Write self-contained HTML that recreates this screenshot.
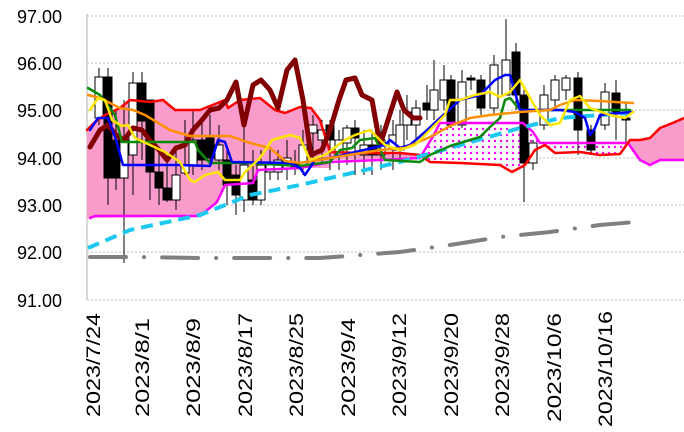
<!DOCTYPE html>
<html><head><meta charset="utf-8"><style>body{margin:0;background:#fff}svg{display:block}</style></head><body>
<svg width="684" height="432" xmlns="http://www.w3.org/2000/svg" font-family="Liberation Sans, sans-serif">
<defs><pattern id="dots" width="6" height="6" patternUnits="userSpaceOnUse"><rect width="6" height="6" fill="#fff"/><circle cx="3" cy="3" r="1.2" fill="#f0f"/></pattern></defs>
<g stroke="#bbb" stroke-dasharray="2,2" stroke-width="1">
<line x1="87" y1="16" x2="684" y2="16"/><line x1="87" y1="63" x2="684" y2="63"/><line x1="87" y1="110" x2="684" y2="110"/><line x1="87" y1="158" x2="684" y2="158"/><line x1="87" y1="205" x2="684" y2="205"/><line x1="87" y1="252" x2="684" y2="252"/><line x1="87" y1="300" x2="684" y2="300"/>
</g>
<line x1="87" y1="14" x2="87" y2="300" stroke="#ccc" stroke-width="1.5"/>
<g font-size="18" text-anchor="end" fill="#000">
<text x="62" y="23">97.00</text><text x="62" y="70">96.00</text><text x="62" y="117">95.00</text><text x="62" y="165">94.00</text><text x="62" y="212">93.00</text><text x="62" y="259">92.00</text><text x="62" y="307">91.00</text>
</g>
<g font-size="19" text-anchor="end" lengthAdjust="spacingAndGlyphs">
<text transform="translate(100,313) rotate(-90)" textLength="104" lengthAdjust="spacingAndGlyphs">2023/7/24</text>
<text transform="translate(149,318) rotate(-90)" textLength="99" lengthAdjust="spacingAndGlyphs">2023/8/1</text>
<text transform="translate(200,318) rotate(-90)" textLength="99" lengthAdjust="spacingAndGlyphs">2023/8/9</text>
<text transform="translate(252,313) rotate(-90)" textLength="104" lengthAdjust="spacingAndGlyphs">2023/8/17</text>
<text transform="translate(303,313) rotate(-90)" textLength="104" lengthAdjust="spacingAndGlyphs">2023/8/25</text>
<text transform="translate(355,318) rotate(-90)" textLength="99" lengthAdjust="spacingAndGlyphs">2023/9/4</text>
<text transform="translate(406,313) rotate(-90)" textLength="104" lengthAdjust="spacingAndGlyphs">2023/9/12</text>
<text transform="translate(458,313) rotate(-90)" textLength="104" lengthAdjust="spacingAndGlyphs">2023/9/20</text>
<text transform="translate(509,313) rotate(-90)" textLength="104" lengthAdjust="spacingAndGlyphs">2023/9/28</text>
<text transform="translate(561,313) rotate(-90)" textLength="109" lengthAdjust="spacingAndGlyphs">2023/10/6</text>
<text transform="translate(612,311) rotate(-90)" textLength="116" lengthAdjust="spacingAndGlyphs">2023/10/16</text>
</g>
<polygon fill="#f99ccc" points="87,130 95,122 105,115 120,108 130,100 150,102 163,100 175,110 200,110 215,104 225,100 228,108 240,100 260,98 275,110 285,113 300,107 311,108 320,120 330,152 330,168 300,168 258,170 253,183 225,185 217,202 200,216 90,218 87,218"/>
<polygon fill="#f99ccc" points="330,152 420,155 420,158 330,160"/>
<polygon fill="url(#dots)" points="420,155 430,162 460,163 500,165 512,172 525,165 535,150 545,145 555,153 580,152 600,155 620,154 628,143 540,143 533,132 523,123 440,123 432,138 420,158"/>
<polygon fill="#f99ccc" points="628,143 630,140 640,140 650,138 660,128 675,122 684,118 684,160 660,160 650,165 640,160"/>
<g stroke="#000" stroke-width="1">
<line x1="99" y1="68" x2="99" y2="125"/><rect x="95" y="77" width="8" height="41" fill="#fff"/>
<line x1="108" y1="68" x2="108" y2="205"/><rect x="104" y="77" width="8" height="101" fill="#000"/>
<line x1="116" y1="110" x2="116" y2="190"/><rect x="112" y="140" width="8" height="38" fill="#000"/>
<line x1="124" y1="100" x2="124" y2="263"/><rect x="120" y="140" width="8" height="38" fill="#fff"/>
<line x1="133" y1="72" x2="133" y2="195"/><rect x="129" y="83" width="8" height="72" fill="#fff"/>
<line x1="142" y1="72" x2="142" y2="160"/><rect x="138" y="83" width="8" height="38" fill="#000"/>
<line x1="150" y1="118" x2="150" y2="200"/><rect x="146" y="100" width="8" height="72" fill="#000"/>
<line x1="159" y1="150" x2="159" y2="205"/><rect x="155" y="172" width="8" height="16" fill="#000"/>
<line x1="167" y1="160" x2="167" y2="202"/><rect x="163" y="188" width="8" height="12" fill="#000"/>
<line x1="176" y1="150" x2="176" y2="210"/><rect x="172" y="175" width="8" height="25" fill="#fff"/>
<line x1="185" y1="120" x2="185" y2="175"/><rect x="181" y="165" width="8" height="8" fill="#fff"/>
<line x1="193" y1="110" x2="193" y2="175"/><rect x="189" y="140" width="8" height="25" fill="#fff"/>
<line x1="202" y1="118" x2="202" y2="170"/><rect x="198" y="140" width="8" height="20" fill="#000"/>
<line x1="210" y1="115" x2="210" y2="165"/><rect x="206" y="138" width="8" height="20" fill="#000"/>
<line x1="219" y1="125" x2="219" y2="170"/><rect x="215" y="145" width="8" height="15" fill="#fff"/>
<line x1="227" y1="150" x2="227" y2="205"/><rect x="223" y="160" width="8" height="25" fill="#000"/>
<line x1="236" y1="165" x2="236" y2="215"/><rect x="232" y="175" width="8" height="20" fill="#000"/>
<line x1="244" y1="120" x2="244" y2="212"/><rect x="240" y="165" width="8" height="35" fill="#fff"/>
<line x1="253" y1="150" x2="253" y2="205"/><rect x="249" y="180" width="8" height="20" fill="#000"/>
<line x1="261" y1="150" x2="261" y2="205"/><rect x="257" y="165" width="8" height="35" fill="#fff"/>
<line x1="270" y1="150" x2="270" y2="180"/><rect x="266" y="165" width="8" height="7" fill="#fff"/>
<line x1="278" y1="150" x2="278" y2="180"/><rect x="274" y="160" width="8" height="12" fill="#fff"/>
<line x1="287" y1="140" x2="287" y2="180"/><rect x="283" y="158" width="8" height="10" fill="#fff"/>
<line x1="295" y1="150" x2="295" y2="175"/><rect x="291" y="162" width="8" height="6" fill="#000"/>
<line x1="303" y1="130" x2="303" y2="175"/><rect x="299" y="145" width="8" height="20" fill="#fff"/>
<line x1="313" y1="115" x2="313" y2="160"/><rect x="309" y="125" width="8" height="8" fill="#fff"/>
<line x1="322" y1="120" x2="322" y2="165"/><rect x="318" y="130" width="8" height="10" fill="#fff"/>
<line x1="330" y1="120" x2="330" y2="170"/><rect x="326" y="125" width="8" height="15" fill="#000"/>
<line x1="339" y1="130" x2="339" y2="170"/><rect x="335" y="140" width="8" height="15" fill="#fff"/>
<line x1="347" y1="125" x2="347" y2="165"/><rect x="343" y="128" width="8" height="15" fill="#fff"/>
<line x1="355" y1="120" x2="355" y2="175"/><rect x="351" y="128" width="8" height="10" fill="#000"/>
<line x1="364" y1="130" x2="364" y2="175"/><rect x="360" y="145" width="8" height="10" fill="#fff"/>
<line x1="372" y1="130" x2="372" y2="175"/><rect x="368" y="145" width="8" height="10" fill="#000"/>
<line x1="381" y1="125" x2="381" y2="170"/><rect x="377" y="140" width="8" height="15" fill="#fff"/>
<line x1="393" y1="120" x2="393" y2="170"/><rect x="389" y="135" width="8" height="15" fill="#fff"/>
<line x1="400" y1="110" x2="400" y2="160"/><rect x="396" y="125" width="8" height="25" fill="#fff"/>
<line x1="407" y1="95" x2="407" y2="140"/><rect x="403" y="112" width="8" height="13" fill="#fff"/>
<line x1="416" y1="100" x2="416" y2="140"/><rect x="412" y="108" width="8" height="17" fill="#fff"/>
<line x1="427" y1="85" x2="427" y2="120"/><rect x="423" y="103" width="8" height="7" fill="#000"/>
<line x1="434" y1="60" x2="434" y2="120"/><rect x="430" y="90" width="8" height="20" fill="#fff"/>
<line x1="444" y1="65" x2="444" y2="110"/><rect x="440" y="80" width="8" height="20" fill="#fff"/>
<line x1="451" y1="75" x2="451" y2="128"/><rect x="447" y="80" width="8" height="45" fill="#000"/>
<line x1="462" y1="70" x2="462" y2="128"/><rect x="458" y="82" width="8" height="43" fill="#fff"/>
<line x1="471" y1="75" x2="471" y2="90"/><rect x="467" y="78" width="8" height="2" fill="#000"/>
<line x1="481" y1="75" x2="481" y2="115"/><rect x="477" y="80" width="8" height="28" fill="#000"/>
<line x1="494" y1="55" x2="494" y2="115"/><rect x="490" y="65" width="8" height="43" fill="#fff"/>
<line x1="506" y1="19" x2="506" y2="80"/><rect x="502" y="60" width="8" height="35" fill="#fff"/>
<line x1="516" y1="43" x2="516" y2="110"/><rect x="512" y="52" width="8" height="43" fill="#000"/>
<line x1="524" y1="90" x2="524" y2="202"/><rect x="520" y="95" width="8" height="68" fill="#000"/>
<line x1="533" y1="140" x2="533" y2="170"/><rect x="529" y="143" width="8" height="20" fill="#fff"/>
<line x1="544" y1="85" x2="544" y2="130"/><rect x="540" y="95" width="8" height="30" fill="#fff"/>
<line x1="555" y1="75" x2="555" y2="110"/><rect x="551" y="80" width="8" height="20" fill="#fff"/>
<line x1="566" y1="75" x2="566" y2="100"/><rect x="562" y="78" width="8" height="12" fill="#fff"/>
<line x1="578" y1="72" x2="578" y2="155"/><rect x="574" y="78" width="8" height="52" fill="#000"/>
<line x1="591" y1="125" x2="591" y2="155"/><rect x="587" y="130" width="8" height="20" fill="#000"/>
<line x1="605" y1="83" x2="605" y2="130"/><rect x="601" y="92" width="8" height="33" fill="#fff"/>
<line x1="616" y1="80" x2="616" y2="140"/><rect x="612" y="93" width="8" height="20" fill="#000"/>
<line x1="626" y1="103" x2="626" y2="145"/><rect x="622" y="118" width="8" height="2" fill="#000"/>
</g>
<g fill="none" stroke-linejoin="round" stroke-linecap="round">
<polyline stroke="#f0f" stroke-width="2.5" points="90,218 95,216 200,216 217,202 225,185 253,183 258,170 300,168 330,162 380,160 420,158 432,138 440,123 523,123 533,132 540,143 628,143 640,160 650,165 660,160 684,160"/>
<polyline stroke="#f00" stroke-width="2.5" points="87,130 95,122 105,115 120,108 130,100 150,102 163,100 175,110 200,110 215,104 225,100 228,108 240,100 260,98 275,110 285,113 300,107 311,108 320,120 330,152 360,153 400,153 420,155 430,162 460,163 500,165 512,172 525,165 535,150 545,145 555,153 580,152 600,155 620,154 630,140 640,140 650,138 660,128 675,122 684,118"/>
<polyline stroke="#820000" stroke-width="5" points="90,147 100,130 108,125 116,135 124,140 133,128 142,130 150,140 159,150 167,160 176,148 185,145 193,130 202,120 210,110 219,108 227,100 236,82 244,125 253,85 261,80 270,90 278,108 287,70 295,60 303,100 311,155 322,150 330,130 339,100 346,80 355,78 362,95 372,100 380,145 388,120 397,92 404,110 413,118 420,118"/>
<polyline stroke="#1cc8f0" stroke-width="4" stroke-dasharray="12,7" stroke-linecap="butt" points="88,248 130,230 200,215 250,195 300,185 330,178 400,162 450,148 520,128 560,118 600,115 630,113"/>
<polyline stroke="#808080" stroke-width="4" stroke-dasharray="36,18,0.1,18" points="90,257 140,257 200,258 260,258 320,258 360,255 400,252 450,245 500,237 550,232 600,225 635,222"/>
<polyline stroke="#0a8a0a" stroke-width="2.5" points="88,88 100,95 115,115 122,142 195,142 198,150 210,163 250,163 300,166 330,162 340,150 352,148 360,140 375,138 385,160 420,162 430,155 450,146 480,137 490,127 500,118 505,100 510,98 520,110 560,110 590,110 630,110"/>
<polyline stroke="#00f" stroke-width="2.5" points="90,130 98,118 108,118 116,140 123,165 180,165 210,166 218,140 225,142 232,162 290,163 300,168 305,175 315,160 330,158 385,145 390,140 400,148 410,145 425,132 440,118 460,100 480,95 495,80 505,75 510,75 520,110 560,110 575,112 585,118 590,135 595,128 600,115 620,113 633,112"/>
<polyline stroke="#ff9000" stroke-width="2.5" points="88,95 100,98 120,108 133,110 145,115 170,130 190,136 230,136 250,143 270,148 285,161 300,163 330,158 380,150 405,148 430,137 450,126 470,118 490,115 520,112 550,110 560,105 575,100 600,101 615,102 633,103"/>
<polyline stroke="#ffe600" stroke-width="2.5" points="90,110 98,98 105,100 112,120 122,126 128,125 135,138 165,152 180,162 190,180 195,182 205,175 218,172 225,180 240,180 245,172 260,158 272,140 290,135 300,138 310,160 325,155 345,140 355,135 370,130 385,145 400,150 415,145 430,130 445,115 450,100 460,100 475,95 490,92 500,97 510,92 520,80 530,98 540,115 550,125 560,123 570,100 580,96 590,108 610,115 625,118 633,112"/>
</g>
</svg>
</body></html>
